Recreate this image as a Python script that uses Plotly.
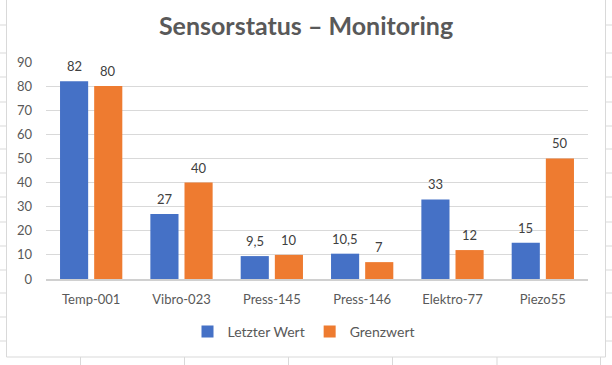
import plotly.graph_objects as go

categories = ["Temp-001", "Vibro-023", "Press-145", "Press-146", "Elektro-77", "Piezo55"]
letzter_wert = [82, 27, 9.5, 10.5, 33, 15]
grenzwert = [80, 40, 10, 7, 12, 50]
series_names = ["Letzter Wert", "Grenzwert"]
y_ticks = [0, 10, 20, 30, 40, 50, 60, 70, 80, 90]

W, H = 612, 365
ML, MR, MT, MB = 46, 24, 62, 86
PW, PH = W - ML - MR, H - MT - MB

FONT = "Lato"
BLUE = "#4571C6"
ORANGE = "#EE7B30"
GRID = "#d9d9d9"


def fmt(v):
    return str(int(v)) if float(v).is_integer() else str(v).replace(".", ",")


def px_x(px):
    return (px - ML) / PW


def px_y(py):
    return (H - MB - py) / PH


fig = go.Figure()
fig.add_trace(go.Bar(name=series_names[0], x=categories, y=letzter_wert,
                     marker=dict(color=BLUE, line=dict(width=0))))
fig.add_trace(go.Bar(name=series_names[1], x=categories, y=grenzwert,
                     marker=dict(color=ORANGE, line=dict(width=0))))

annotations = []
for vals, shift in ((letzter_wert, -17), (grenzwert, 17)):
    for c, v in zip(categories, vals):
        annotations.append(dict(x=c, y=v, xref="x", yref="y", text=fmt(v),
                                showarrow=False, xshift=shift, yshift=15,
                                yanchor="middle",
                                font=dict(family=FONT, size=13, color="#404040")))

shapes = []
line_style = dict(color=GRID, width=1)
# chart border (left, right, bottom)
shapes.append(dict(type="line", xref="paper", yref="paper", x0=px_x(6.5), x1=px_x(6.5),
                   y0=px_y(0), y1=px_y(357), line=line_style, layer="below"))
shapes.append(dict(type="line", xref="paper", yref="paper", x0=px_x(605.5), x1=px_x(605.5),
                   y0=px_y(0), y1=px_y(357), line=line_style, layer="below"))
shapes.append(dict(type="line", xref="paper", yref="paper", x0=px_x(6.5), x1=px_x(605.5),
                   y0=px_y(357), y1=px_y(357), line=line_style, layer="below"))
# spreadsheet cells around the chart
for ry in [25, 53, 77, 102, 126, 149, 173, 197, 222, 246, 270, 293, 317, 341]:
    shapes.append(dict(type="line", xref="paper", yref="paper", x0=px_x(0), x1=px_x(6.5),
                       y0=px_y(ry), y1=px_y(ry), line=line_style, layer="below"))
    shapes.append(dict(type="line", xref="paper", yref="paper", x0=px_x(605.5), x1=px_x(612),
                       y0=px_y(ry), y1=px_y(ry), line=line_style, layer="below"))
for cx in [80.5, 184.5, 288.5, 392.5, 497, 600.5]:
    shapes.append(dict(type="line", xref="paper", yref="paper", x0=px_x(cx), x1=px_x(cx),
                       y0=px_y(357), y1=px_y(365), line=line_style, layer="below"))

fig.update_layout(
    width=W, height=H,
    margin=dict(l=ML, r=MR, t=MT, b=MB, pad=0),
    paper_bgcolor="white", plot_bgcolor="white",
    barmode="group", bargap=0.244, bargroupgap=0.176,
    title=dict(text="<b>Sensorstatus – Monitoring</b>", x=0.5, xref="container",
               xanchor="center", y=1 - 26 / H, yref="container", yanchor="middle",
               font=dict(family=FONT, size=25, color="#595959")),
    font=dict(family=FONT, size=13, color="#595959"),
    legend=dict(orientation="h", x=px_x(304), xanchor="center", y=px_y(332), yanchor="middle",
                font=dict(family=FONT, size=14, color="#595959"), itemwidth=30,
                bgcolor="rgba(0,0,0,0)", traceorder="normal"),
    annotations=annotations,
    shapes=shapes,
    showlegend=True,
)
fig.update_xaxes(showgrid=False, showline=True, linecolor="#d0d0d0", linewidth=2,
                 ticks="", ticklabelstandoff=7, zeroline=False,
                 tickfont=dict(family=FONT, size=13, color="#595959"))
fig.update_yaxes(range=[0, 90], tickvals=y_ticks, showgrid=True, gridcolor=GRID, gridwidth=1,
                 showline=False, zeroline=False, ticks="", ticklabelstandoff=13,
                 tickfont=dict(family=FONT, size=13, color="#595959"))

fig.write_html("out.html", config={"displayModeBar": False},
               post_script="document.body.style.margin='0';document.body.style.overflow='hidden';")
